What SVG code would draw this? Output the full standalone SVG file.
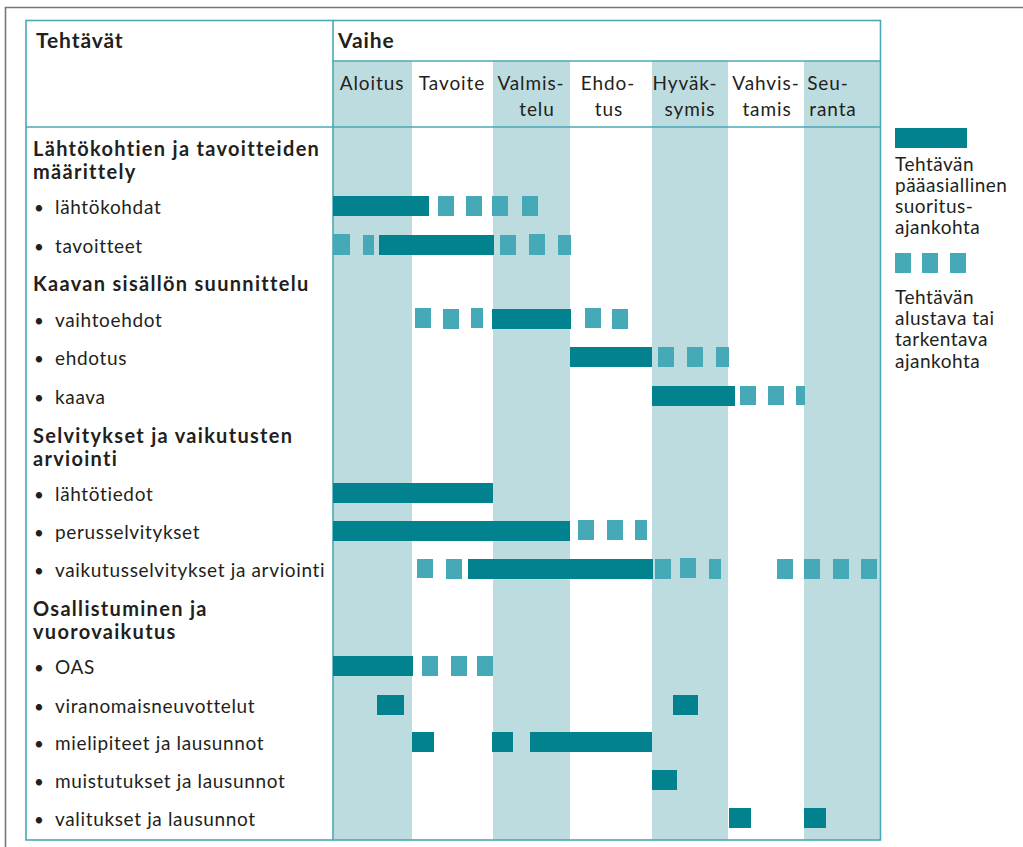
<svg xmlns="http://www.w3.org/2000/svg" width="1023" height="847" viewBox="0 0 1023 847">
<style>
  text { font-family: Lato, "Liberation Sans", sans-serif; fill: #231f20; }
  .h { font-size: 21px; font-weight: bold; letter-spacing: 0.9px; }
  .sec { font-size: 20px; font-weight: bold; letter-spacing: 1.3px; }
  .t { font-size: 19px; letter-spacing: 0.65px; }
  .b { font-size: 17px; }
  .col { font-size: 19px; letter-spacing: 0.9px; text-anchor: middle; }
  .lg { font-size: 19px; letter-spacing: 0.5px; }
  .band { fill: #bddce0; }
  .main { fill: #02828e; }
  .pre { fill: #45a9b7; }
  .grid { stroke: #4aa9b4; stroke-width: 1.6; fill: none; }
</style>
<rect width="1023" height="847" fill="#ffffff"/>
<path d="M5.5 860 V7.5 H1030" stroke="#777" stroke-width="1.6" fill="none"/>

<g id="bands">
  <rect class="band" x="333" y="61" width="79" height="779"/>
  <rect class="band" x="493" y="61" width="77" height="779"/>
  <rect class="band" x="652" y="61" width="76" height="779"/>
  <rect class="band" x="804" y="61" width="76" height="779"/>
</g>

<g id="grid">
  <rect class="grid" x="26" y="20.5" width="854.5" height="819.5"/>
  <line class="grid" x1="333" y1="20" x2="333" y2="840"/>
  <line class="grid" x1="333" y1="61" x2="880" y2="61"/>
  <line class="grid" x1="26" y1="127" x2="880" y2="127"/>
</g>

<g id="header">
  <text class="h" x="36" y="48">Tehtävät</text>
  <text class="h" x="338" y="48">Vaihe</text>
  <text class="col" x="372" y="90">Aloitus</text>
  <text class="col" x="452" y="90">Tavoite</text>
  <text class="col" x="531" y="90">Valmis-</text>
  <text class="col" x="537" y="116">telu</text>
  <text class="col" x="608" y="90">Ehdo-</text>
  <text class="col" x="609" y="116">tus</text>
  <text class="col" x="685" y="90">Hyväk-</text>
  <text class="col" x="690" y="116">symis</text>
  <text class="col" x="766" y="90">Vahvis-</text>
  <text class="col" x="767" y="116">tamis</text>
  <text class="col" x="828" y="90">Seu-</text>
  <text class="col" x="833" y="116">ranta</text>
</g>

<g id="sec-lahtokohdat">
  <text class="sec" x="33" y="156">Lähtökohtien ja tavoitteiden</text>
  <text class="sec" x="33" y="179">määrittely</text>
</g>
<g id="row-lahtokohdat">
  <text class="b" x="34" y="214">•</text><text class="t" x="55" y="214">lähtökohdat</text>
  <rect class="main" x="333" y="196" width="96" height="20"/>
  <rect class="pre" x="438" y="196" width="16" height="20"/>
  <rect class="pre" x="466" y="196" width="16" height="20"/>
  <rect class="pre" x="492" y="196" width="16" height="20"/>
  <rect class="pre" x="522" y="196" width="16" height="20"/>
</g>
<g id="row-tavoitteet">
  <text class="b" x="34" y="253">•</text><text class="t" x="55" y="253">tavoitteet</text>
  <rect class="pre" x="333" y="234" width="17" height="21"/>
  <rect class="pre" x="363" y="235" width="11" height="20"/>
  <rect class="main" x="379" y="235" width="115" height="20"/>
  <rect class="pre" x="500" y="235" width="16" height="20"/>
  <rect class="pre" x="529" y="234" width="16" height="21"/>
  <rect class="pre" x="558" y="235" width="13" height="20"/>
</g>

<g id="sec-kaavan">
  <text class="sec" x="33" y="291">Kaavan sisällön suunnittelu</text>
</g>
<g id="row-vaihtoehdot">
  <text class="b" x="34" y="327">•</text><text class="t" x="55" y="327">vaihtoehdot</text>
  <rect class="pre" x="415" y="308" width="16" height="20"/>
  <rect class="pre" x="443" y="309" width="16" height="20"/>
  <rect class="pre" x="471" y="308" width="12" height="20"/>
  <rect class="main" x="492" y="309" width="79" height="20"/>
  <rect class="pre" x="585" y="308" width="16" height="20"/>
  <rect class="pre" x="612" y="309" width="16" height="20"/>
</g>
<g id="row-ehdotus">
  <text class="b" x="34" y="365">•</text><text class="t" x="55" y="365">ehdotus</text>
  <rect class="main" x="570" y="347" width="82" height="20"/>
  <rect class="pre" x="658" y="347" width="16" height="20"/>
  <rect class="pre" x="687" y="347" width="16" height="20"/>
  <rect class="pre" x="716" y="347" width="13" height="20"/>
</g>
<g id="row-kaava">
  <text class="b" x="34" y="404">•</text><text class="t" x="55" y="404">kaava</text>
  <rect class="main" x="652" y="386" width="83" height="20"/>
  <rect class="pre" x="740" y="386" width="16" height="19"/>
  <rect class="pre" x="768" y="386" width="16" height="19"/>
  <rect class="pre" x="796" y="386" width="9" height="19"/>
</g>

<g id="sec-selvitykset">
  <text class="sec" x="33" y="443">Selvitykset ja vaikutusten</text>
  <text class="sec" x="33" y="466">arviointi</text>
</g>
<g id="row-lahtotiedot">
  <text class="b" x="34" y="501">•</text><text class="t" x="55" y="501">lähtötiedot</text>
  <rect class="main" x="333" y="483" width="160" height="20"/>
</g>
<g id="row-perusselvitykset">
  <text class="b" x="34" y="539">•</text><text class="t" x="55" y="539">perusselvitykset</text>
  <rect class="main" x="333" y="521" width="237" height="20"/>
  <rect class="pre" x="578" y="520" width="16" height="20"/>
  <rect class="pre" x="607" y="520" width="16" height="20"/>
  <rect class="pre" x="635" y="520" width="12" height="20"/>
</g>
<g id="row-vaikutusselvitykset">
  <text class="b" x="34" y="577">•</text><text class="t" x="55" y="577">vaikutusselvitykset ja arviointi</text>
  <rect class="pre" x="417" y="559" width="16" height="19"/>
  <rect class="pre" x="446" y="559" width="16" height="20"/>
  <rect class="main" x="468" y="559" width="185" height="20"/>
  <rect class="pre" x="655" y="559" width="16" height="20"/>
  <rect class="pre" x="680" y="558" width="16" height="20"/>
  <rect class="pre" x="709" y="559" width="12" height="20"/>
  <rect class="pre" x="777" y="559" width="16" height="20"/>
  <rect class="pre" x="804" y="559" width="16" height="20"/>
  <rect class="pre" x="833" y="559" width="16" height="20"/>
  <rect class="pre" x="861" y="559" width="16" height="20"/>
</g>

<g id="sec-osallistuminen">
  <text class="sec" x="33" y="616">Osallistuminen ja</text>
  <text class="sec" x="33" y="639">vuorovaikutus</text>
</g>
<g id="row-oas">
  <text class="b" x="34" y="674">•</text><text class="t" x="55" y="674">OAS</text>
  <rect class="main" x="333" y="656" width="80" height="20"/>
  <rect class="pre" x="422" y="656" width="16" height="20"/>
  <rect class="pre" x="451" y="656" width="16" height="20"/>
  <rect class="pre" x="477" y="656" width="16" height="20"/>
</g>
<g id="row-viranomaisneuvottelut">
  <text class="b" x="34" y="713">•</text><text class="t" x="55" y="713">viranomaisneuvottelut</text>
  <rect class="main" x="377" y="695" width="27" height="20"/>
  <rect class="main" x="673" y="695" width="25" height="20"/>
</g>
<g id="row-mielipiteet">
  <text class="b" x="34" y="750">•</text><text class="t" x="55" y="750">mielipiteet ja lausunnot</text>
  <rect class="main" x="412" y="732" width="22" height="20"/>
  <rect class="main" x="492" y="732" width="21" height="20"/>
  <rect class="main" x="530" y="732" width="122" height="20"/>
</g>
<g id="row-muistutukset">
  <text class="b" x="34" y="788">•</text><text class="t" x="55" y="788">muistutukset ja lausunnot</text>
  <rect class="main" x="652" y="770" width="25" height="20"/>
</g>
<g id="row-valitukset">
  <text class="b" x="34" y="826">•</text><text class="t" x="55" y="826">valitukset ja lausunnot</text>
  <rect class="main" x="729" y="808" width="22" height="20"/>
  <rect class="main" x="804" y="808" width="22" height="20"/>
</g>

<g id="legend">
  <rect class="main" x="895" y="128" width="72" height="20"/>
  <text class="lg" x="895" y="171">Tehtävän</text>
  <text class="lg" x="895" y="192">pääasiallinen</text>
  <text class="lg" x="895" y="213">suoritus-</text>
  <text class="lg" x="895" y="234">ajankohta</text>
  <rect class="pre" x="895" y="253" width="16" height="20"/>
  <rect class="pre" x="922" y="253" width="16" height="20"/>
  <rect class="pre" x="950" y="253" width="16" height="20"/>
  <text class="lg" x="895" y="304">Tehtävän</text>
  <text class="lg" x="895" y="325">alustava tai</text>
  <text class="lg" x="895" y="346">tarkentava</text>
  <text class="lg" x="895" y="368">ajankohta</text>
</g>
</svg>
